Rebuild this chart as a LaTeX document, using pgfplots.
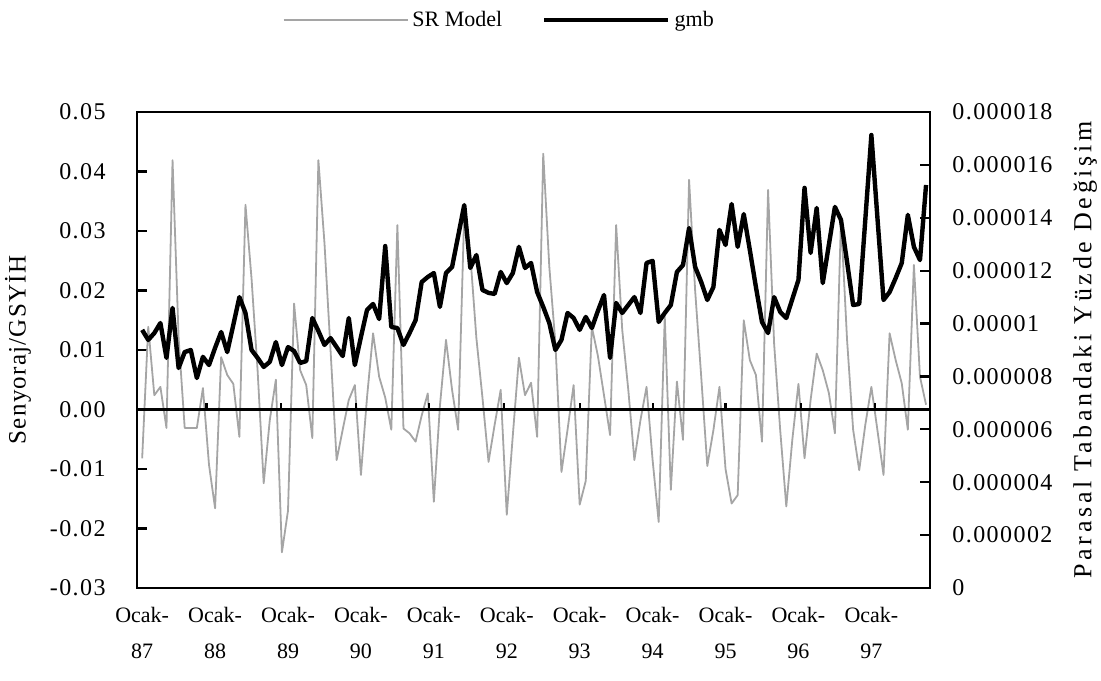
\documentclass[border=0pt]{standalone}
\usepackage{fontspec}
\setmainfont{Liberation Serif}
\newfontfamily\numfont[LetterSpace=6]{Liberation Serif}
\newfontfamily\leftlabelfont[LetterSpace=5]{Liberation Serif}
\newfontfamily\rightlabelfont[LetterSpace=14]{Liberation Serif}
\usepackage{pgfplots}
\pgfplotsset{compat=1.18}
\usepackage{pgfplotstable}

\definecolor{srgrey}{RGB}{165,165,165}

% Monthly series, January 1987 onward (index 0 = Ocak-87)
\pgfplotstableread{
m sr
0 -0.0082
1 0.0139
2 0.0024
3 0.0038
4 -0.0031
5 0.0419
6 0.0120
7 -0.0031
8 -0.0031
9 -0.0031
10 0.0036
11 -0.0093
12 -0.0166
13 0.0088
14 0.0058
15 0.0043
16 -0.0046
17 0.0344
18 0.0220
19 0.0065
20 -0.0124
21 -0.0018
22 0.0050
23 -0.0240
24 -0.0170
25 0.0178
26 0.0066
27 0.0041
28 -0.0048
29 0.0419
30 0.0280
31 0.0100
32 -0.0085
33 -0.0034
34 0.0016
35 0.0041
36 -0.0110
37 0.0020
38 0.0128
39 0.0055
40 0.0020
41 -0.0034
42 0.0310
43 -0.0032
44 -0.0040
45 -0.0054
46 -0.0010
47 0.0027
48 -0.0155
49 0.0006
50 0.0117
51 0.0033
52 -0.0034
53 0.0330
54 0.0260
55 0.0120
56 0.0020
57 -0.0088
58 -0.0026
59 0.0033
60 -0.0177
61 -0.0043
62 0.0087
63 0.0024
64 0.0045
65 -0.0046
66 0.0430
67 0.0240
68 0.0112
69 -0.0105
70 -0.0034
71 0.0041
72 -0.0160
73 -0.0120
74 0.0139
75 0.0090
76 0.0024
77 -0.0043
78 0.0310
79 0.0134
80 0.0033
81 -0.0085
82 -0.0018
83 0.0038
84 -0.0085
85 -0.0189
86 0.0156
87 -0.0135
88 0.0047
89 -0.0051
90 0.0386
91 0.0200
92 0.0055
93 -0.0095
94 -0.0035
95 0.0038
96 -0.0100
97 -0.0158
98 -0.0144
99 0.0150
100 0.0083
101 0.0058
102 -0.0054
103 0.0369
104 0.0110
105 -0.0035
106 -0.0163
107 -0.0050
108 0.0043
109 -0.0082
110 0.0016
111 0.0094
112 0.0066
113 0.0028
114 -0.0040
115 0.0320
116 0.0117
117 -0.0034
118 -0.0102
119 -0.0026
120 0.0038
121 -0.0035
122 -0.0110
123 0.0128
124 0.0083
125 0.0044
126 -0.0034
127 0.0243
128 0.0055
129 0.0008
}\srdata

\pgfplotstableread{
m gmb
0 9.76e-6
1 9.38e-6
2 9.64e-6
3 10.02e-6
4 8.70e-6
5 10.59e-6
6 8.32e-6
7 8.92e-6
8 9.00e-6
9 7.94e-6
10 8.74e-6
11 8.43e-6
12 9.08e-6
13 9.68e-6
14 8.92e-6
15 9.95e-6
16 11.00e-6
17 10.40e-6
18 9.00e-6
19 8.70e-6
20 8.36e-6
21 8.55e-6
22 9.30e-6
23 8.43e-6
24 9.11e-6
25 8.96e-6
26 8.51e-6
27 8.58e-6
28 10.21e-6
29 9.72e-6
30 9.19e-6
31 9.45e-6
32 9.11e-6
33 8.77e-6
34 10.21e-6
35 8.43e-6
36 9.49e-6
37 10.51e-6
38 10.74e-6
39 10.17e-6
40 12.93e-6
41 9.87e-6
42 9.83e-6
43 9.19e-6
44 9.64e-6
45 10.13e-6
46 11.57e-6
47 11.76e-6
48 11.91e-6
49 10.63e-6
50 11.91e-6
51 12.14e-6
52 13.31e-6
53 14.48e-6
54 12.10e-6
55 12.59e-6
56 11.27e-6
57 11.16e-6
58 11.12e-6
59 11.95e-6
60 11.53e-6
61 11.91e-6
62 12.90e-6
63 12.10e-6
64 12.29e-6
65 11.19e-6
66 10.63e-6
67 10.02e-6
68 9.00e-6
69 9.38e-6
70 10.40e-6
71 10.21e-6
72 9.76e-6
73 10.25e-6
74 9.83e-6
75 10.48e-6
76 11.08e-6
77 8.70e-6
78 10.78e-6
79 10.40e-6
80 10.70e-6
81 11.00e-6
82 10.40e-6
83 12.29e-6
84 12.37e-6
85 10.06e-6
86 10.40e-6
87 10.70e-6
88 11.95e-6
89 12.21e-6
90 13.61e-6
91 12.14e-6
92 11.57e-6
93 10.89e-6
94 11.38e-6
95 13.54e-6
96 12.97e-6
97 14.52e-6
98 12.90e-6
99 14.14e-6
100 12.78e-6
101 11.38e-6
102 10.06e-6
103 9.64e-6
104 11.00e-6
105 10.44e-6
106 10.21e-6
107 10.93e-6
108 11.65e-6
109 15.13e-6
110 12.67e-6
111 14.37e-6
112 11.53e-6
113 12.97e-6
114 14.41e-6
115 13.92e-6
116 12.33e-6
117 10.70e-6
118 10.74e-6
119 13.92e-6
120 17.13e-6
121 13.99e-6
122 10.89e-6
123 11.19e-6
124 11.72e-6
125 12.29e-6
126 14.11e-6
127 12.90e-6
128 12.40e-6
129 15.24e-6
}\gmbdata

\begin{document}
\begin{tikzpicture}
\pgfplotsset{
  twin/.style={
    scale only axis, width=396.5pt, height=238pt,
    xmin=-0.85, xmax=129.65,
    scaled y ticks=false,
    /pgf/number format/assume math mode=true,
    tick align=inside,
    major tick length=5pt,
    axis line style={line width=1.2pt},
    tick style={line width=1.1pt, black},
    ticklabel style={font=\fontsize{11}{13}\selectfont},
    yticklabel style={font=\numfont\fontsize{12}{14}\selectfont},
  },
  srstyle/.style={srgrey, line width=0.9pt, line join=round},
  gmbstyle/.style={black, line width=2.2pt, line join=round},
}
% left axis: SR Model
\begin{axis}[twin,
  ymin=-0.03, ymax=0.05,
  ytick={-0.03,-0.02,-0.01,0,0.01,0.02,0.03,0.04,0.05},
  yticklabels={-0.03,-0.02,-0.01,0.00,0.01,0.02,0.03,0.04,0.05},
  ytick pos=left,
  yticklabel style={inner sep=0pt, xshift=-15.5pt},
  xtick={0,12,...,120},
  xticklabels={{Ocak-\\87},{Ocak-\\88},{Ocak-\\89},{Ocak-\\90},{Ocak-\\91},{Ocak-\\92},{Ocak-\\93},{Ocak-\\94},{Ocak-\\95},{Ocak-\\96},{Ocak-\\97}},
  xtick pos=bottom,
  major x tick style={draw=none},
  xticklabel style={align=center, inner sep=0pt, yshift=-9.5pt, font=\fontsize{11}{18}\selectfont},
  ylabel={Senyoraj/GSYİH},
  every axis y label/.style={at={(axis description cs:-0.150,0.5)}, rotate=90, anchor=center,
    font=\leftlabelfont\fontsize{12.5}{14}\selectfont},
]
\addplot[srstyle] table[x=m, y=sr] {\srdata};
% category axis crossing at zero
\draw[line width=1.5pt] (axis cs:-0.85,0) -- (axis cs:129.65,0);
\pgfplotsinvokeforeach{10.6,22.8,35.2,47.2,59.5,72.0,84.1,96.0,108.4,120.6}{
  \draw[line width=1.1pt] (axis cs:#1,0) -- ++(0pt,3pt);
}
\coordinate (SW) at (rel axis cs:0,0);
\coordinate (NE) at (rel axis cs:1,1);
\end{axis}
% right axis: gmb
\begin{axis}[twin,
  axis y line*=right,
  axis x line=none,
  ymin=0, ymax=18e-6,
  ytick={0,2e-6,4e-6,6e-6,8e-6,10e-6,12e-6,14e-6,16e-6,18e-6},
  yticklabels={0,0.000002,0.000004,0.000006,0.000008,0.00001,0.000012,0.000014,0.000016,0.000018},
  yticklabel style={inner sep=0pt, xshift=11pt},
  ylabel={Parasal Tabandaki Yüzde Değişim},
  every axis y label/.style={at={(axis description cs:1.1955,0.5)}, rotate=90, anchor=center,
    font=\rightlabelfont\fontsize{13}{15}\selectfont},
  legend columns=2,
  legend style={at={(axis description cs:0.458,1.193)}, anchor=center, draw=none, fill=none,
    font=\fontsize{11}{13}\selectfont,
    /tikz/every even column/.append style={column sep=18pt}},
  legend image code/.code={\draw[#1] (0pt,0pt) -- (62pt,0pt);},
]
\addlegendimage{srstyle}
\addlegendentry{SR Model}
\addplot[gmbstyle] table[x=m, y=gmb] {\gmbdata};
\addlegendentry{gmb}
\end{axis}
\pgfresetboundingbox
\path[use as bounding box] ([shift={(-68.5pt,-46.5pt)}]SW) rectangle ([shift={(85.5pt,56pt)}]NE);
\end{tikzpicture}
\end{document}
